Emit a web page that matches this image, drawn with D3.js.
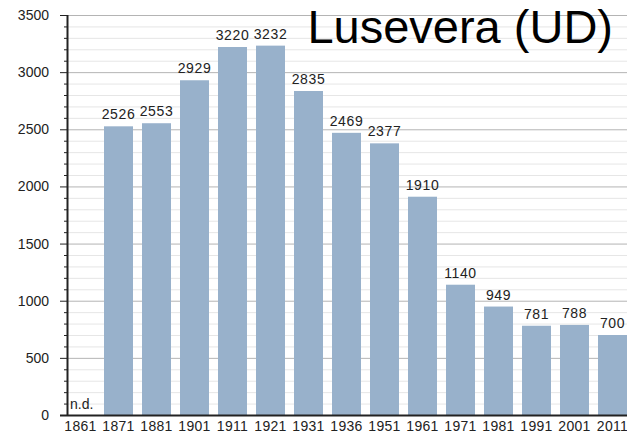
<!DOCTYPE html>
<html><head><meta charset="utf-8">
<script src="https://cdn.jsdelivr.net/npm/d3@7"></script>
<style>body{margin:0;background:#fff}svg{display:block}text{font-family:"Liberation Sans",Arial,sans-serif}</style>
</head><body><svg id="c" width="627" height="436"></svg>
<script>
const years = ["1861","1871","1881","1901","1911","1921","1931","1936","1951","1961","1971","1981","1991","2001","2011"];
const population = [null,2526,2553,2929,3220,3232,2835,2469,2377,1910,1140,949,781,788,700];
const yTicks = [0,500,1000,1500,2000,2500,3000,3500];
const title = "Lusevera (UD)";
const missingLabel = "n.d.";

const svg = d3.select("#c");
const mLeft = 67, mTop = 15, mBottom = 415;
const x = d3.scaleBand().domain(years).range([66, 66 + 38*years.length]).paddingInner(0).paddingOuter(0);
const barW = x.bandwidth() * 29/38;
const y = d3.scaleLinear().domain([0,3500]).range([mBottom, mTop]);

// grid
const minor = d3.range(0, 3501, 100).filter(v => v % 500 !== 0);
svg.append("g").selectAll("line").data(minor).join("line")
  .attr("x1", mLeft).attr("x2", 627).attr("y1", d=>y(d)+0.5).attr("y2", d=>y(d)+0.5)
  .attr("stroke", "#e6e6e6").attr("stroke-width", 1);
svg.append("g").selectAll("line").data(yTicks.filter(v=>v>0)).join("line")
  .attr("x1", mLeft).attr("x2", 627).attr("y1", d=>y(d)+0.5).attr("y2", d=>y(d)+0.5)
  .attr("stroke", "#b4b4b4").attr("stroke-width", 1);

const rows = years.map((yr,i)=>({yr, v: population[i]})).filter(d=>d.v!=null);
// bars
svg.append("g").selectAll("rect").data(rows).join("rect")
  .attr("x", d=>x(d.yr)).attr("width", barW)
  .attr("y", d=>y(d.v)).attr("height", d=>mBottom - y(d.v))
  .attr("fill", "#98b1cb");

// value labels
svg.append("g").selectAll("text").data(rows).join("text")
  .attr("x", d=>x(d.yr)+barW/2).attr("y", d=>y(d.v)-7)
  .attr("text-anchor","middle").attr("font-size", 14).attr("letter-spacing", 0.6).attr("fill","#222")
  .text(d=>d.v);

svg.append("text").attr("x", x("1861")+4).attr("y", mBottom-6)
  .attr("font-size", 14).attr("fill","#222").text(missingLabel);

// y axis
svg.append("line").attr("x1", mLeft+0.5).attr("x2", mLeft+0.5).attr("y1", mTop).attr("y2", mBottom+1).attr("stroke","#222").attr("stroke-width",2);
svg.append("g").selectAll("line").data(minor).join("line")
  .attr("x1", mLeft-3).attr("x2", mLeft).attr("y1", d=>y(d)+0.5).attr("y2", d=>y(d)+0.5).attr("stroke","#222");
svg.append("g").selectAll("line").data(yTicks).join("line")
  .attr("x1", mLeft-7).attr("x2", mLeft).attr("y1", d=>y(d)+0.5).attr("y2", d=>y(d)+0.5).attr("stroke","#222");
svg.append("g").selectAll("text").data(yTicks).join("text")
  .attr("x", 49).attr("y", d=>y(d)+5).attr("text-anchor","end")
  .attr("font-size", 14).attr("fill","#222").text(d=>d);

// x axis
svg.append("line").attr("x1", mLeft-7).attr("x2", 627).attr("y1", mBottom+0.5).attr("y2", mBottom+0.5).attr("stroke","#222").attr("stroke-width",2);
svg.append("g").selectAll("text").data(years).join("text")
  .attr("x", d=>x(d)+barW/2).attr("y", 431).attr("text-anchor","middle")
  .attr("font-size", 14).attr("letter-spacing", 0.3).attr("fill","#222").text(d=>d);

svg.append("text").attr("x", 613).attr("y", 43).attr("text-anchor","end")
  .attr("font-size", 47).attr("fill","#000").text(title);
</script></body></html>
